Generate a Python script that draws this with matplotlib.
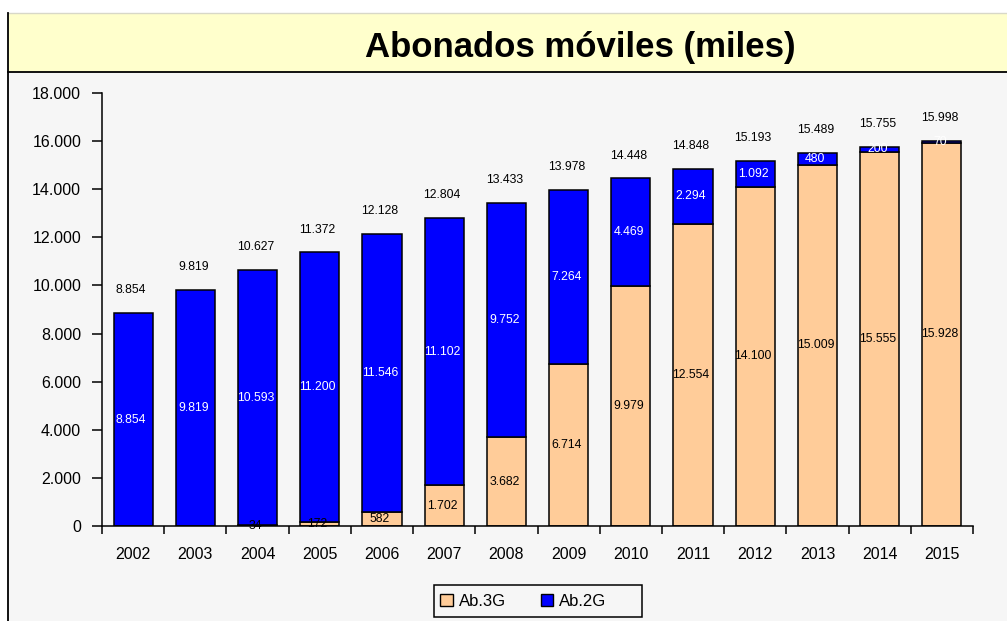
import matplotlib
matplotlib.use("Agg")
import matplotlib.pyplot as plt
from matplotlib.patches import Rectangle, Patch
from matplotlib.lines import Line2D
from matplotlib.ticker import FuncFormatter, FixedLocator
import numpy as np

plt.rcParams['font.family'] = ['Liberation Sans', 'DejaVu Sans']

years = ["2002", "2003", "2004", "2005", "2006", "2007", "2008",
         "2009", "2010", "2011", "2012", "2013", "2014", "2015"]
ab_3g = [0, 0, 34, 172, 582, 1702, 3682, 6714, 9979, 12554, 14100, 15009, 15555, 15928]
ab_2g = [8854, 9819, 10593, 11200, 11546, 11102, 9752, 7264, 4469, 2294, 1092, 480, 200, 70]
totals = [8854, 9819, 10627, 11372, 12128, 12804, 13433, 13978, 14448, 14848,
          15193, 15489, 15755, 15998]
title = "Abonados móviles (miles)"
series_names = ["Ab.3G", "Ab.2G"]

W, H = 1007, 621
fig = plt.figure(figsize=(W / 100, H / 100), dpi=100)
fig.patch.set_facecolor("white")

def fx(px):
    return px / W

def fy(py):
    return (H - py) / H

# gray plot area background
fig.patches.append(Rectangle((fx(8), 0), 1 - fx(8), fy(72), transform=fig.transFigure,
                             facecolor="#F6F6F6", edgecolor="none", zorder=-2))
# yellow title band
fig.patches.append(Rectangle((fx(8), fy(72)), 1 - fx(8), fy(13) - fy(72), transform=fig.transFigure,
                             facecolor="#FFFFCC", edgecolor="none", zorder=-2))
# frame lines
fig.lines.append(Line2D([fx(8), 1], [fy(13), fy(13)], transform=fig.transFigure,
                        color="#D8D8C8", lw=1, zorder=-1))
fig.lines.append(Line2D([fx(8), 1], [fy(72), fy(72)], transform=fig.transFigure,
                        color="black", lw=1.3, zorder=-1))
fig.lines.append(Line2D([fx(8), fx(8)], [0, fy(13)], transform=fig.transFigure,
                        color="black", lw=1.3, zorder=-1))

fig.text(fx(580), fy(47), title, ha="center", va="center", fontsize=25, fontweight="bold")

ax = fig.add_axes([fx(102), fy(526), fx(973) - fx(102), fy(93) - fy(526)])
ax.set_facecolor("none")

x = np.arange(len(years))
width = 0.63
c3g = "#FFCC99"
c2g = "#0000FF"
b3 = ax.bar(x, ab_3g, width, color=c3g, edgecolor="black", linewidth=1.1, zorder=2)
b2 = ax.bar(x, ab_2g, width, bottom=ab_3g, color=c2g, edgecolor="black", linewidth=1.1, zorder=2)

def fmt(v):
    return f"{int(v):,}".replace(",", ".")

for i in range(len(years)):
    if ab_3g[i] > 0:
        ax.annotate(fmt(ab_3g[i]), (x[i], ab_3g[i] / 2), xytext=(-1.5, 0),
                    textcoords="offset points", ha="center", va="center",
                    fontsize=8.8, color="black", zorder=3)
    ax.annotate(fmt(ab_2g[i]), (x[i], ab_3g[i] + ab_2g[i] / 2), xytext=(-1.5, 0),
                textcoords="offset points", ha="center", va="center",
                fontsize=8.8, color="white", zorder=3)
    ax.annotate(fmt(totals[i]), (x[i], totals[i]), xytext=(-1.5, 16.5),
                textcoords="offset points", ha="center", va="center",
                fontsize=8.8, color="black", zorder=3)

ax.set_xlim(-0.5, len(years) - 0.5)
ax.set_ylim(0, 18000)
ax.set_yticks(np.arange(0, 18001, 2000))
ax.yaxis.set_major_formatter(FuncFormatter(lambda v, p: fmt(v)))
ax.set_xticks(x)
ax.set_xticklabels(years)
ax.xaxis.set_minor_locator(FixedLocator(np.arange(-0.5, len(years), 1.0)))
ax.tick_params(axis="x", which="major", length=0, pad=15, labelsize=11.5)
ax.tick_params(axis="x", which="minor", length=6, width=1.1, direction="out", color="black")
ax.tick_params(axis="y", which="major", length=7, width=1.1, direction="out", pad=8, labelsize=11.5)
for s in ["top", "right"]:
    ax.spines[s].set_visible(False)
for s in ["left", "bottom"]:
    ax.spines[s].set_linewidth(1.1)
    ax.spines[s].set_color("black")

# legend frame (drawn manually, Excel-like asymmetric padding)
fig.patches.append(Rectangle((fx(434), fy(617)), fx(642) - fx(434), fy(585) - fy(617),
                             transform=fig.transFigure, facecolor="#F6F6F6",
                             edgecolor="black", linewidth=1.1, zorder=1))
handles = [Patch(facecolor=c3g, edgecolor="black", linewidth=1),
           Patch(facecolor=c2g, edgecolor="black", linewidth=1)]
leg = fig.legend(handles, series_names, loc="center left", bbox_to_anchor=(fx(437), fy(601)),
                 ncol=2, fontsize=12, frameon=False,
                 handlelength=0.75, handleheight=0.75, handletextpad=0.35,
                 columnspacing=2.1, borderpad=0.2, borderaxespad=0)
leg.set_zorder(2)

fig.savefig("out.png", dpi=100)
